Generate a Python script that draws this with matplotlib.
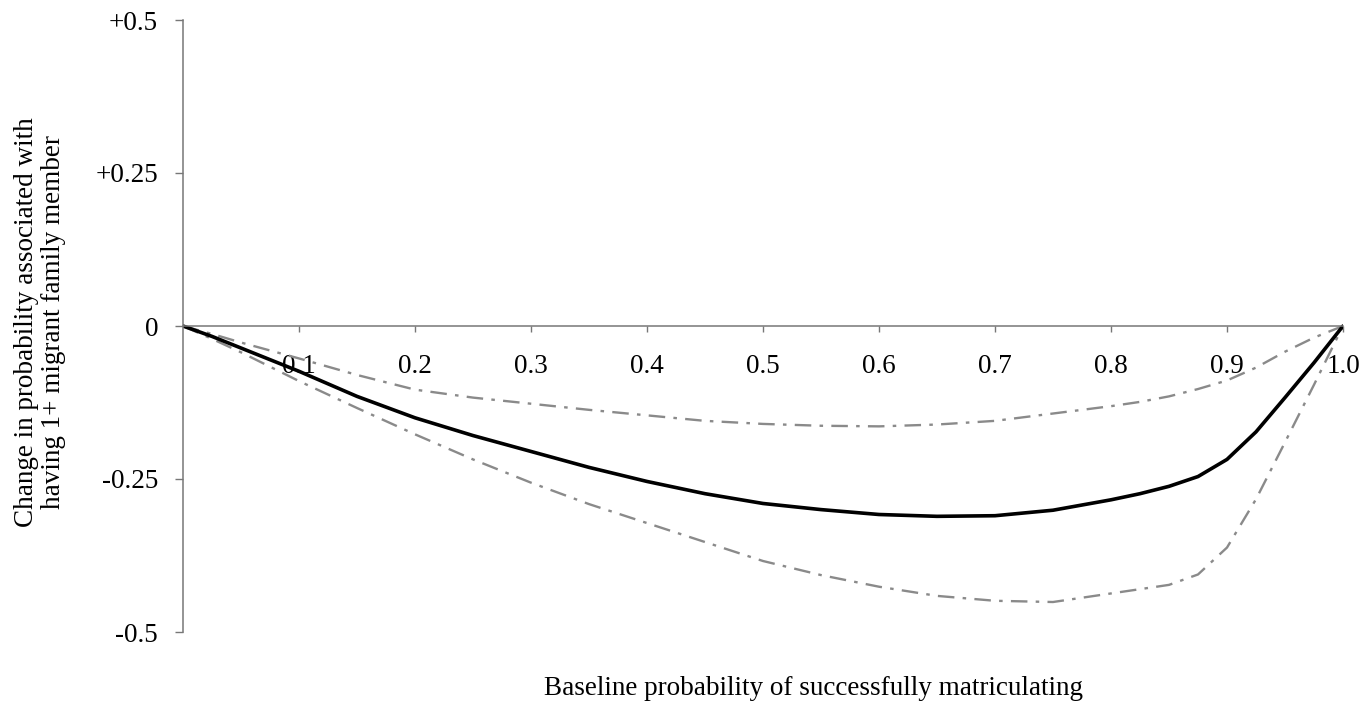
import matplotlib
matplotlib.use("Agg")
import matplotlib.pyplot as plt

plt.rcParams['font.family'] = ['Liberation Serif', 'DejaVu Serif']

# Data
x_vals = [0.0, 0.025, 0.05, 0.1, 0.15, 0.2, 0.25, 0.3, 0.35, 0.4, 0.45, 0.5,
          0.55, 0.6, 0.65, 0.7, 0.75, 0.8, 0.825, 0.85, 0.875, 0.9, 0.925, 0.95, 0.975, 1.0]

estimate = [0.0, -0.017, -0.036, -0.074, -0.115, -0.150, -0.179, -0.205, -0.231, -0.254, -0.274, -0.290,
            -0.300, -0.308, -0.311, -0.310, -0.301, -0.284, -0.274, -0.262, -0.246, -0.218, -0.173, -0.117, -0.060, 0.0]

upper = [0.0, -0.013, -0.027, -0.053, -0.080, -0.104, -0.117, -0.127, -0.137, -0.146, -0.155, -0.160,
         -0.163, -0.164, -0.161, -0.155, -0.143, -0.131, -0.124, -0.115, -0.103, -0.089, -0.068, -0.042, -0.019, 0.0]

lower = [0.0, -0.021, -0.043, -0.090, -0.134, -0.177, -0.218, -0.256, -0.291, -0.322, -0.353, -0.384,
         -0.407, -0.426, -0.441, -0.449, -0.451, -0.437, -0.430, -0.423, -0.406, -0.362, -0.283, -0.190, -0.096, 0.0]

x_ticks = [0.1, 0.2, 0.3, 0.4, 0.5, 0.6, 0.7, 0.8, 0.9, 1.0]
x_tick_labels = ["0.1", "0.2", "0.3", "0.4", "0.5", "0.6", "0.7", "0.8", "0.9", "1.0"]
y_ticks = [-0.5, -0.25, 0.0, 0.25, 0.5]
y_tick_labels = ["-0.5", "-0.25", "0", "+0.25", "+0.5"]

W, H = 1372, 702
fig = plt.figure(figsize=(W / 100, H / 100), dpi=100)
ax = fig.add_axes([183 / W, 1 - 632 / H, 1160 / W, 612 / H])

grey = "#8a8a8a"
dashdot = (0, (7, 3.5, 1.5, 3.5))
ax.plot(x_vals, upper, color=grey, lw=1.7, linestyle=dashdot, solid_joinstyle="round")
ax.plot(x_vals, lower, color=grey, lw=1.7, linestyle=dashdot, solid_joinstyle="round")
ax.plot(x_vals, estimate, color="black", lw=2.6,
        solid_capstyle="round", solid_joinstyle="round")

ax.set_xlim(0, 1.0)
ax.set_ylim(-0.5, 0.5)

for s in ["top", "right"]:
    ax.spines[s].set_visible(False)
ax.spines["bottom"].set_position(("data", 0))
for s in ["left", "bottom"]:
    ax.spines[s].set_color("#777777")
    ax.spines[s].set_linewidth(1.1)

ax.set_xticks(x_ticks)
ax.set_xticklabels(x_tick_labels)
ax.set_yticks(y_ticks)
ax.set_yticklabels(y_tick_labels)
ax.tick_params(axis="x", direction="out", length=4, width=1, color="#777777",
               pad=16, labelsize=19.5)
ax.tick_params(axis="y", direction="out", length=6, width=1, color="#777777",
               pad=12, labelsize=19.5)

fig.text(813 / W, 1 - 695 / H, "Baseline probability of successfully matriculating",
         ha="center", va="baseline", fontsize=19.5)
fig.text(40 / W, 1 - 322 / H,
         "Change in probability associated with\nhaving 1+ migrant family member",
         rotation=90, ha="center", va="center", multialignment="center",
         fontsize=19.5, linespacing=1.15)

fig.savefig("out.png", dpi=100)
plt.close(fig)
